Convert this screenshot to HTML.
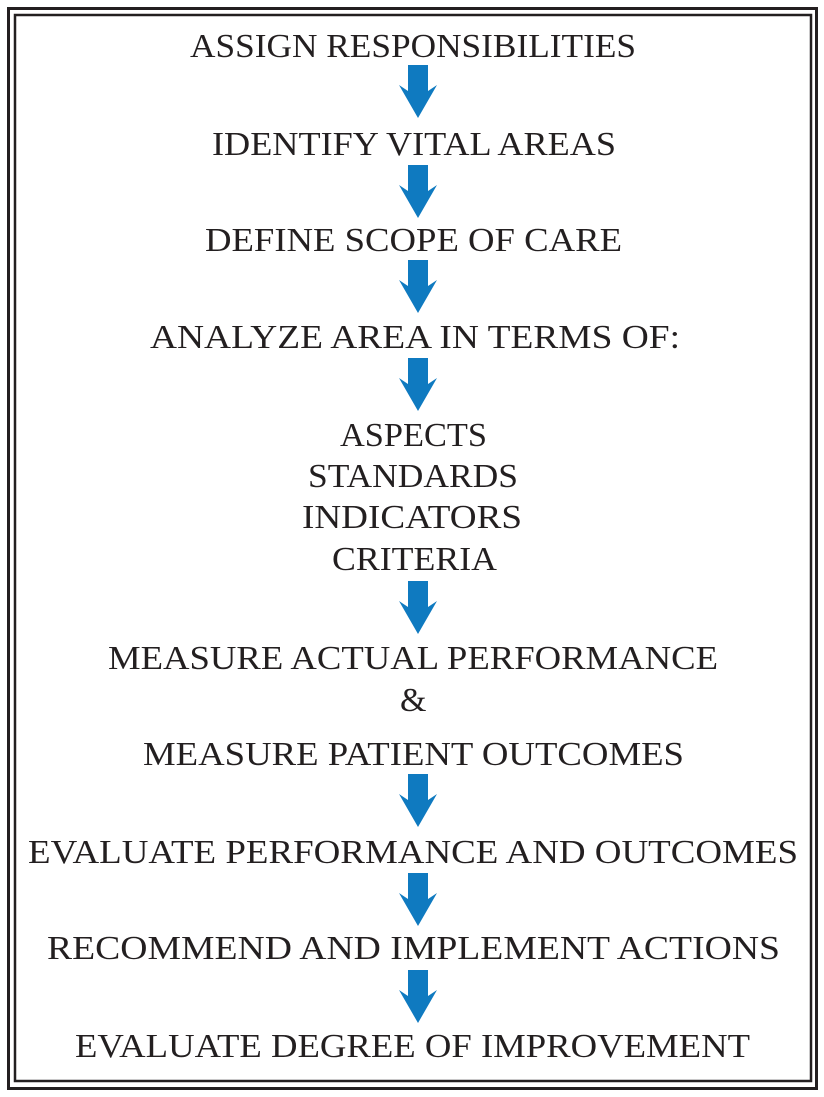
<!DOCTYPE html>
<html><head><meta charset="utf-8"><style>
html,body{margin:0;padding:0;background:#fff;}
svg{display:block;}
text{font-family:"Liberation Serif",serif;font-size:34px;fill:#231f20;}
</style></head><body>
<svg width="824" height="1097" viewBox="0 0 824 1097">
<rect x="8.5" y="8.5" width="808" height="1080" fill="none" stroke="#231f20" stroke-width="3"/>
<rect x="15" y="15" width="796" height="1066" fill="none" stroke="#231f20" stroke-width="2.5"/>
<g id="steps"></g>
<g id="arrows"></g>
</svg>
<script>
const labels=["ASSIGN RESPONSIBILITIES","IDENTIFY VITAL AREAS","DEFINE SCOPE OF CARE","ANALYZE AREA IN TERMS OF:","ASPECTS","STANDARDS","INDICATORS","CRITERIA","MEASURE ACTUAL PERFORMANCE","&","MEASURE PATIENT OUTCOMES","EVALUATE PERFORMANCE AND OUTCOMES","RECOMMEND AND IMPLEMENT ACTIONS","EVALUATE DEGREE OF IMPROVEMENT"];
const baselines=[57,155,251,348,446,487,528,570,669,711,765,863,959,1057];
const spans=[[190,636],[212,616],[205,622],[150,680],[340,487],[308,518],[302,522],[332,497],[108,718],[400,428],[143,684],[28,798],[47,780],[75,750]];
const arrowTops=[65,165,260,358,581,774,873,970];
const NS="http://www.w3.org/2000/svg";
const g=document.getElementById('steps');
labels.forEach((l,i)=>{
  const t=document.createElementNS(NS,'text');
  
  
  t.setAttribute('x',spans[i][0]);
  t.setAttribute('y',baselines[i]);
  if(l.length>1){t.setAttribute('textLength',spans[i][1]-spans[i][0]);t.setAttribute('lengthAdjust','spacingAndGlyphs');}
  t.textContent=l;
  g.appendChild(t);
});
const ga=document.getElementById('arrows');
arrowTops.forEach(y=>{
  const cx=418;
  const p=document.createElementNS(NS,'path');
  
  
  p.setAttribute('d',`M${cx-10} ${y} H${cx+10} V${y+26} L${cx+19} ${y+20} L${cx} ${y+53} L${cx-19} ${y+20} L${cx-10} ${y+26} Z`);
  p.setAttribute('fill','#0f7ac0');
  ga.appendChild(p);
});
</script>
</body></html>
